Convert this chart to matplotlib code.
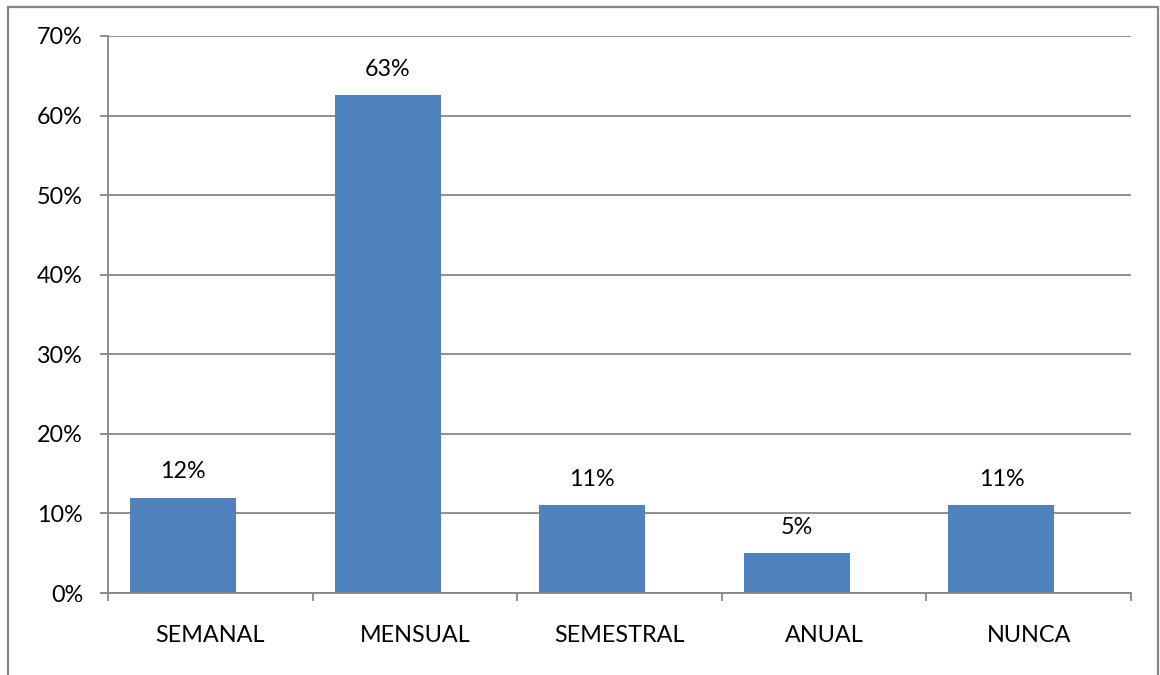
import matplotlib
matplotlib.use("Agg")
import matplotlib.pyplot as plt
from matplotlib.patches import Rectangle
from matplotlib.ticker import PercentFormatter, FixedLocator
import numpy as np

# frecuencia de respuesta
categorias = ["SEMANAL", "MENSUAL", "SEMESTRAL", "ANUAL", "NUNCA"]
porcentajes = [0.12, 0.626, 0.11, 0.05, 0.11]
yticks = [0, 0.1, 0.2, 0.3, 0.4, 0.5, 0.6, 0.7]

plt.rcParams["font.family"] = ["Lato", "DejaVu Sans"]
gris = "#868686"
azul = "#4F81BD"
fs = 16.8

fig = plt.figure(figsize=(11.6, 6.75), dpi=100)
ax = fig.add_axes([108 / 1160, 82 / 675, 1023 / 1160, 557 / 675])

x = np.arange(len(categorias))
barras = ax.bar(x - 0.133, porcentajes, width=0.518, color=azul, zorder=3)

for b, v in zip(barras, porcentajes):
    ax.annotate(f"{v:.0%}", (b.get_x() + b.get_width() / 2, v),
                xytext=(0, 11), textcoords="offset points",
                ha="center", va="bottom", fontsize=fs)

ax.set_xlim(-0.5, len(categorias) - 0.5)
ax.set_ylim(0, 0.7)
ax.set_yticks(yticks)
ax.yaxis.set_major_formatter(PercentFormatter(1.0, decimals=0))
ax.set_xticks(x)
ax.set_xticklabels(categorias)
ax.xaxis.set_minor_locator(FixedLocator(np.arange(-0.5, len(categorias), 1)))

ax.tick_params(axis="x", which="major", length=0, pad=23, labelsize=fs)
ax.tick_params(axis="x", which="minor", length=6, width=1.3, color=gris, direction="out")
ax.tick_params(axis="y", length=6, width=1.3, color=gris, pad=12, labelsize=fs)

ax.grid(axis="y", color=gris, linewidth=1.3, zorder=0)
for s in ["top", "right"]:
    ax.spines[s].set_visible(False)
for s in ["left", "bottom"]:
    ax.spines[s].set_color(gris)
    ax.spines[s].set_linewidth(1.3)
    ax.spines[s].set_zorder(4)

# marco exterior del grafico
fig.patches.append(Rectangle((8 / 1160, -0.1), 1150 / 1160, 1.1 - 7 / 675,
                             transform=fig.transFigure, fill=False,
                             edgecolor=gris, linewidth=1.6, clip_on=False))

fig.savefig("out.png", dpi=100)
